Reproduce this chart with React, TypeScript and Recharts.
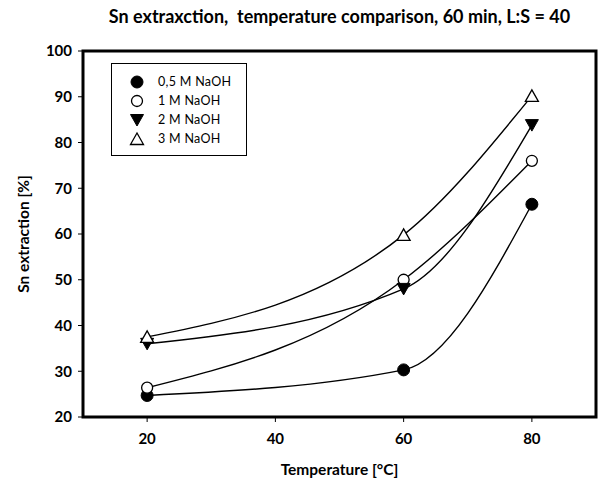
import {
  LineChart,
  Line,
  XAxis,
  YAxis,
  Legend,
  ReferenceArea,
} from "recharts";

const temperatures = [20, 60, 80];
const naoh05 = [24.7, 30.3, 66.5];
const naoh1 = [26.4, 50.0, 76.0];
const naoh2 = [36.0, 48.0, 83.8];
const naoh3 = [37.5, 59.8, 90.2];
const xTicks = [20, 40, 60, 80];
const yTicks = [20, 30, 40, 50, 60, 70, 80, 90, 100];

const data = temperatures.map((t, i) => ({
  t,
  naoh05: naoh05[i],
  naoh1: naoh1[i],
  naoh2: naoh2[i],
  naoh3: naoh3[i],
}));

type Shape = "circle" | "openCircle" | "triDown" | "openTriUp";

const series: { key: string; name: string; shape: Shape }[] = [
  { key: "naoh05", name: "0,5 M NaOH", shape: "circle" },
  { key: "naoh1", name: "1 M NaOH", shape: "openCircle" },
  { key: "naoh2", name: "2 M NaOH", shape: "triDown" },
  { key: "naoh3", name: "3 M NaOH", shape: "openTriUp" },
];

const font = "Lato, 'Open Sans', sans-serif";

function Marker({ shape, cx, cy }: { shape: Shape; cx: number; cy: number }) {
  if (shape === "circle")
    return <circle cx={cx} cy={cy} r={6} fill="#000" stroke="#000" />;
  if (shape === "openCircle")
    return <circle cx={cx} cy={cy} r={5.5} fill="#fff" stroke="#000" strokeWidth={1.3} />;
  if (shape === "triDown")
    return (
      <polygon
        points={`${cx - 6.5},${cy - 5.5} ${cx + 6.5},${cy - 5.5} ${cx},${cy + 6}`}
        fill="#000"
        stroke="#000"
      />
    );
  return (
    <polygon
      points={`${cx - 6.5},${cy + 5.5} ${cx + 6.5},${cy + 5.5} ${cx},${cy - 6}`}
      fill="#fff"
      stroke="#000"
      strokeWidth={1.3}
    />
  );
}

function LegendBox(props: any) {
  const payload = props.payload || [];
  return (
    <div
      style={{
        border: "1px solid #000",
        background: "#fff",
        width: 136,
        height: 93,
        boxSizing: "border-box",
        paddingTop: 8,
        fontFamily: font,
        fontSize: 12.5,
      }}
    >
      {payload.map((entry: any) => {
        const s = series.find((x) => x.key === entry.dataKey);
        return (
          <div
            key={entry.value}
            style={{ display: "flex", alignItems: "center", height: 19 }}
          >
            <svg width={44} height={16}>
              <Marker shape={s ? s.shape : "circle"} cx={25} cy={8} />
            </svg>
            <span style={{ marginLeft: 2, letterSpacing: 0.3 }}>{entry.value}</span>
          </div>
        );
      })}
    </div>
  );
}

export default function App() {
  return (
    <div style={{ position: "absolute", left: 0, top: 0, background: "#fff" }}>
      <div
        style={{
          position: "absolute",
          left: 83,
          width: 513,
          top: 5,
          textAlign: "center",
          fontFamily: font,
          fontWeight: 700,
          fontSize: 18,
          zIndex: 2,
        }}
      >
        Sn extraxction,&nbsp; temperature comparison, 60 min, L:S = 40
      </div>
      <LineChart
        width={601}
        height={488}
        data={data}
        margin={{ top: 51, right: 5, bottom: 0, left: 0 }}
      >
        <XAxis
          dataKey="t"
          type="number"
          domain={[10, 90]}
          ticks={xTicks}
          axisLine={false}
          tickLine={{ stroke: "#000" }}
          tickSize={5}
          tickMargin={11}
          height={71}
          tick={{ fill: "#000", fontFamily: font, fontWeight: 700, fontSize: 15 }}
          label={{
            value: "Temperature [°C]",
            position: "insideBottom",
            offset: 13,
            fill: "#000",
            fontFamily: font,
            fontWeight: 700,
            fontSize: 15.5,
          }}
        />
        <YAxis
          type="number"
          domain={[20, 100]}
          ticks={yTicks}
          axisLine={false}
          tickLine={{ stroke: "#000" }}
          tickSize={5}
          tickMargin={6}
          width={83}
          tick={{ fill: "#000", fontFamily: font, fontWeight: 700, fontSize: 15 }}
          label={{
            value: "Sn extraction [%]",
            angle: -90,
            position: "insideLeft",
            offset: 23,
            style: { textAnchor: "middle" },
            fill: "#000",
            fontFamily: font,
            fontWeight: 700,
            fontSize: 15.5,
          }}
        />
        <ReferenceArea
          x1={10}
          x2={90}
          y1={20}
          y2={100}
          fill="none"
          stroke="#000"
          strokeWidth={3}
        />
        <Legend
          layout="vertical"
          align="center"
          verticalAlign="middle"
          content={<LegendBox />}
          wrapperStyle={{ left: 111, top: 63, width: 136 }}
        />
        {series.map((s) => (
          <Line
            key={s.key}
            dataKey={s.key}
            name={s.name}
            type="monotone"
            stroke="#000"
            strokeWidth={1.4}
            isAnimationActive={false}
            dot={(p: any) => (
              <Marker key={`${s.key}-${p.index}`} shape={s.shape} cx={p.cx} cy={p.cy} />
            )}
            activeDot={false}
          />
        ))}
      </LineChart>
    </div>
  );
}
